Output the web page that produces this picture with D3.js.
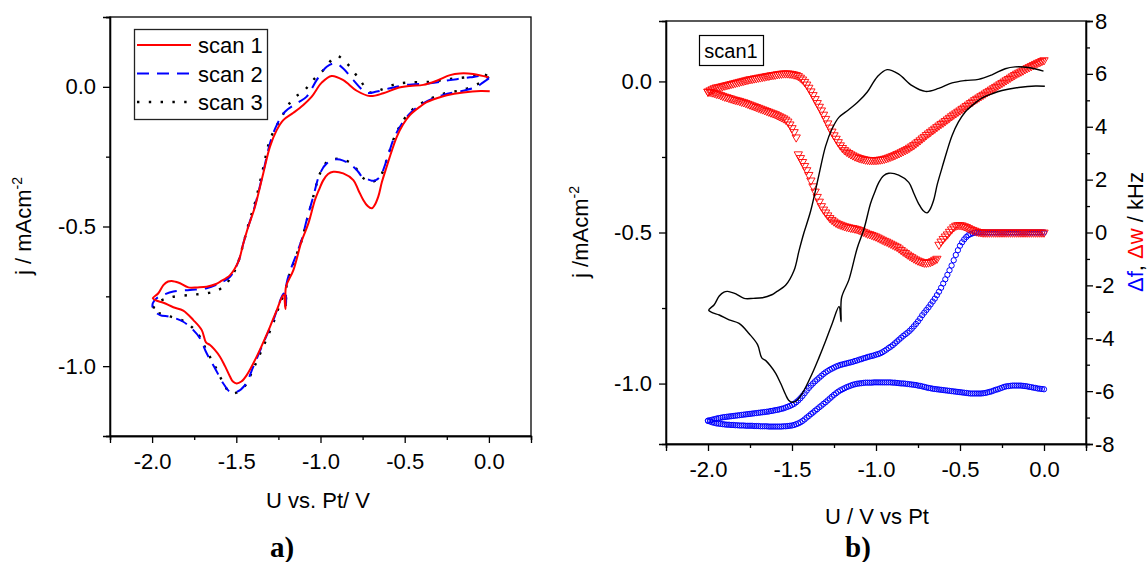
<!DOCTYPE html>
<html>
<head>
<meta charset="utf-8">
<script src="https://cdn.jsdelivr.net/npm/d3@7"></script>
<style>
  html, body { margin: 0; padding: 0; background: #fff; }
  svg { display: block; font-family: "Liberation Sans", Arial, sans-serif; }
</style>
</head>
<body>
<svg id="fig" width="1148" height="562"></svg>
<script>
// ---------- cyclic voltammograms, [U / V, j / mA cm^-2] in sweep order ----------
const scan1 = [
  [0.005,-0.016],[-0.05,-0.015],[-0.152,-0.02],[-0.25,-0.03],[-0.31,-0.041],[-0.37,-0.055],
  [-0.409,-0.071],[-0.469,-0.101],[-0.51,-0.135],[-0.547,-0.179],[-0.58,-0.235],[-0.607,-0.286],
  [-0.635,-0.34],[-0.657,-0.393],[-0.68,-0.425],[-0.696,-0.435],[-0.72,-0.427],[-0.746,-0.405],
  [-0.775,-0.37],[-0.805,-0.334],[-0.865,-0.31],[-0.924,-0.304],[-0.955,-0.312],[-0.983,-0.334],
  [-1.01,-0.37],[-1.033,-0.405],[-1.072,-0.489],[-1.112,-0.552],[-1.161,-0.656],[-1.205,-0.716],
  [-1.208,-0.795],[-1.22,-0.745],[-1.26,-0.80],[-1.30,-0.859],[-1.34,-0.915],[-1.379,-0.966],
  [-1.438,-1.032],[-1.47,-1.055],[-1.498,-1.062],[-1.52,-1.055],[-1.537,-1.038],[-1.567,-1.0],
  [-1.597,-0.966],[-1.63,-0.94],[-1.656,-0.924],[-1.68,-0.915],[-1.705,-0.871],[-1.755,-0.835],
  [-1.815,-0.801],[-1.874,-0.789],[-1.933,-0.773],[-1.975,-0.765],[-1.996,-0.757],
  [-1.963,-0.739],[-1.933,-0.71],[-1.905,-0.697],[-1.884,-0.695],[-1.86,-0.698],[-1.834,-0.703],
  [-1.785,-0.718],[-1.73,-0.718],[-1.676,-0.716],[-1.62,-0.706],[-1.597,-0.698],[-1.537,-0.674],
  [-1.488,-0.626],[-1.458,-0.56],[-1.429,-0.501],[-1.389,-0.429],[-1.34,-0.31],[-1.30,-0.214],
  [-1.26,-0.155],[-1.221,-0.119],[-1.161,-0.093],[-1.102,-0.065],[-1.052,-0.035],[-0.993,0.015],
  [-0.934,0.039],[-0.865,0.024],[-0.785,-0.014],[-0.706,-0.033],[-0.627,-0.023],[-0.547,-0.005],
  [-0.469,0.003],[-0.39,0.007],[-0.31,0.022],[-0.231,0.042],[-0.172,0.048],[-0.093,0.046],
  [-0.003,0.034]
];
const scan2 = [
  [0.0,0.03],[-0.036,0.015],[-0.072,0.0],[-0.152,-0.014],[-0.271,-0.029],[-0.39,-0.059],
  [-0.469,-0.095],[-0.528,-0.143],[-0.568,-0.19],[-0.607,-0.262],[-0.647,-0.322],[-0.675,-0.335],
  [-0.696,-0.336],[-0.72,-0.331],[-0.746,-0.327],[-0.775,-0.305],[-0.805,-0.286],[-0.865,-0.264],
  [-0.914,-0.26],[-0.963,-0.274],[-1.003,-0.31],[-1.043,-0.393],[-1.082,-0.477],[-1.112,-0.548],
  [-1.141,-0.596],[-1.201,-0.703],[-1.205,-0.78],[-1.218,-0.74],[-1.28,-0.835],[-1.34,-0.918],
  [-1.399,-1.002],[-1.448,-1.068],[-1.498,-1.092],[-1.537,-1.092],[-1.577,-1.062],[-1.626,-1.008],
  [-1.676,-0.954],[-1.716,-0.9],[-1.755,-0.871],[-1.815,-0.841],[-1.894,-0.823],[-1.953,-0.817],
  [-1.993,-0.799],[-1.996,-0.775],
  [-1.973,-0.757],[-1.933,-0.745],[-1.874,-0.733],[-1.775,-0.727],[-1.676,-0.721],[-1.597,-0.703],
  [-1.537,-0.68],[-1.488,-0.626],[-1.458,-0.56],[-1.429,-0.5],[-1.389,-0.425],[-1.34,-0.305],
  [-1.30,-0.202],[-1.26,-0.137],[-1.211,-0.089],[-1.141,-0.059],[-1.082,-0.035],[-1.023,0.024],
  [-0.963,0.072],[-0.914,0.084],[-0.865,0.066],[-0.805,0.024],[-0.726,-0.021],[-0.666,-0.017],
  [-0.587,-0.005],[-0.488,0.007],[-0.35,0.013],[-0.231,0.024],[-0.112,0.034],[-0.033,0.039],
  [0.0,0.03]
];
const scan3 = [
  [0.0,0.035],[-0.05,0.015],[-0.152,-0.01],[-0.271,-0.025],[-0.39,-0.055],[-0.469,-0.09],
  [-0.528,-0.14],[-0.568,-0.19],[-0.607,-0.262],[-0.647,-0.322],[-0.696,-0.34],[-0.746,-0.327],
  [-0.805,-0.28],[-0.865,-0.26],[-0.914,-0.258],[-0.963,-0.27],[-1.003,-0.31],[-1.043,-0.393],
  [-1.082,-0.48],[-1.112,-0.55],[-1.141,-0.6],[-1.201,-0.71],[-1.205,-0.79],[-1.218,-0.75],
  [-1.28,-0.845],[-1.34,-0.93],[-1.399,-1.01],[-1.448,-1.07],[-1.5,-1.095],[-1.537,-1.095],
  [-1.577,-1.06],[-1.626,-1.0],[-1.676,-0.945],[-1.716,-0.895],[-1.755,-0.865],[-1.815,-0.838],
  [-1.894,-0.822],[-1.953,-0.811],[-1.996,-0.805],
  [-1.973,-0.775],[-1.894,-0.754],[-1.775,-0.745],[-1.676,-0.739],[-1.616,-0.73],[-1.567,-0.71],
  [-1.527,-0.677],[-1.498,-0.644],[-1.468,-0.584],[-1.429,-0.495],[-1.389,-0.415],[-1.34,-0.29],
  [-1.30,-0.19],[-1.23,-0.107],[-1.161,-0.041],[-1.102,-0.017],[-1.05,0.02],[-0.983,0.06],
  [-0.904,0.11],[-0.844,0.084],[-0.765,0.024],[-0.706,-0.02],[-0.65,-0.012],[-0.568,0.007],
  [-0.488,0.015],[-0.35,0.018],[-0.231,0.028],[-0.112,0.036],[-0.03,0.045],[0.0,0.035]
];

// ---------- EQCM data of scan 1: potentials and the two sweeps (kHz) ----------
const potentialGrid = [
   0.0000,-0.0125,-0.0250,-0.0375,-0.0500,-0.0625,-0.0750,-0.0875,
  -0.1000,-0.1125,-0.1250,-0.1375,-0.1500,-0.1625,-0.1750,-0.1875,
  -0.2000,-0.2125,-0.2250,-0.2375,-0.2500,-0.2625,-0.2750,-0.2875,
  -0.3000,-0.3125,-0.3250,-0.3375,-0.3500,-0.3625,-0.3750,-0.3875,
  -0.4000,-0.4125,-0.4250,-0.4375,-0.4500,-0.4625,-0.4750,-0.4875,
  -0.5000,-0.5125,-0.5250,-0.5375,-0.5500,-0.5625,-0.5750,-0.5875,
  -0.6000,-0.6125,-0.6250,-0.6375,-0.6500,-0.6625,-0.6750,-0.6875,
  -0.7000,-0.7125,-0.7250,-0.7375,-0.7500,-0.7625,-0.7750,-0.7875,
  -0.8000,-0.8125,-0.8250,-0.8375,-0.8500,-0.8625,-0.8750,-0.8875,
  -0.9000,-0.9125,-0.9250,-0.9375,-0.9500,-0.9625,-0.9750,-0.9875,
  -1.0000,-1.0125,-1.0250,-1.0375,-1.0500,-1.0625,-1.0750,-1.0875,
  -1.1000,-1.1125,-1.1250,-1.1375,-1.1500,-1.1625,-1.1750,-1.1875,
  -1.2000,-1.2125,-1.2250,-1.2375,-1.2500,-1.2625,-1.2750,-1.2875,
  -1.3000,-1.3125,-1.3250,-1.3375,-1.3500,-1.3625,-1.3750,-1.3875,
  -1.4000,-1.4125,-1.4250,-1.4375,-1.4500,-1.4625,-1.4750,-1.4875,
  -1.5000,-1.5125,-1.5250,-1.5375,-1.5500,-1.5625,-1.5750,-1.5875,
  -1.6000,-1.6125,-1.6250,-1.6375,-1.6500,-1.6625,-1.6750,-1.6875,
  -1.7000,-1.7125,-1.7250,-1.7375,-1.7500,-1.7625,-1.7750,-1.7875,
  -1.8000,-1.8125,-1.8250,-1.8375,-1.8500,-1.8625,-1.8750,-1.8875,
  -1.9000,-1.9125,-1.9250,-1.9375,-1.9500,-1.9625,-1.9750,-1.9875,
  -2.0000
];
// damping shift, cathodic sweep
const dwForward = [
  0,0,0,0,0,0,0,0,
  0,0,0,0,0,0,0,0,
  0,0,0,0,0,0,0,0,
  0,0,0,0,0,0,0.01,0.02,
  0.04,0.07,0.10,0.13,0.17,0.21,0.24,0.27,
  0.28,0.28,0.26,0.20,0.12,0.03,-0.07,-0.15,
  -0.24,-0.34,-0.46,-0.99,-1.03,-1.08,-1.11,-1.13,
  -1.14,-1.14,-1.12,-1.09,-1.06,-1.02,-0.98,-0.93,
  -0.88,-0.83,-0.77,-0.72,-0.66,-0.60,-0.54,-0.50,
  -0.46,-0.42,-0.38,-0.34,-0.31,-0.27,-0.23,-0.19,
  -0.15,-0.12,-0.09,-0.06,-0.04,0.00,0.03,0.07,
  0.10,0.13,0.15,0.17,0.18,0.20,0.22,0.24,
  0.27,0.30,0.33,0.37,0.42,0.48,0.55,0.65,
  0.76,0.87,1.00,1.17,1.35,1.55,1.75,1.97,
  2.18,2.36,2.52,2.67,2.82,2.96,3.60,3.80,
  3.95,4.09,4.20,4.27,4.32,4.36,4.40,4.44,
  4.48,4.51,4.54,4.57,4.60,4.63,4.66,4.69,
  4.72,4.75,4.78,4.81,4.84,4.87,4.90,4.93,
  4.95,4.98,5.00,5.02,5.04,5.07,5.09,5.12,
  5.14,5.17,5.20,5.23,5.25,5.28,5.30,5.32,
  5.33
];
// damping shift, anodic sweep
const dwReverse = [
  6.52,6.49,6.45,6.42,6.38,6.34,6.30,6.26,
  6.22,6.18,6.13,6.09,6.05,6.01,5.96,5.91,
  5.86,5.81,5.76,5.71,5.66,5.61,5.56,5.51,
  5.46,5.41,5.36,5.31,5.26,5.21,5.16,5.11,
  5.06,5.01,4.95,4.90,4.84,4.79,4.73,4.68,
  4.62,4.57,4.51,4.46,4.40,4.34,4.28,4.22,
  4.16,4.11,4.05,3.99,3.93,3.87,3.81,3.75,
  3.69,3.62,3.56,3.49,3.43,3.37,3.31,3.26,
  3.21,3.16,3.12,3.08,3.04,3.00,2.97,2.93,
  2.90,2.87,2.84,2.81,2.79,2.77,2.76,2.75,
  2.74,2.74,2.74,2.74,2.75,2.76,2.78,2.80,
  2.82,2.85,2.88,2.92,2.96,3.01,3.06,3.12,
  3.20,3.30,3.42,3.55,3.68,3.82,3.97,4.13,
  4.30,4.46,4.62,4.76,4.90,5.05,5.20,5.34,
  5.48,5.60,5.70,5.79,5.86,5.92,5.96,5.98,
  6.00,6.01,6.02,6.02,6.02,6.01,6.00,5.99,
  5.97,5.96,5.95,5.93,5.92,5.90,5.89,5.87,
  5.86,5.84,5.83,5.81,5.80,5.78,5.76,5.74,
  5.72,5.70,5.68,5.66,5.64,5.62,5.60,5.58,
  5.56,5.54,5.52,5.50,5.49,5.46,5.42,5.38,
  5.33
];
// frequency shift, cathodic sweep
const dfForward = [
  0,0,0,0,0,0,0,0,
  0,0,0,0,0,0,0,0,
  0,0,0,0,0,0,0,0,
  0,0,0,0,0,0,0,0,
  0,-0.01,-0.03,-0.06,-0.10,-0.17,-0.26,-0.37,
  -0.50,-0.67,-0.85,-1.05,-1.25,-1.43,-1.60,-1.77,
  -1.93,-2.09,-2.24,-2.37,-2.50,-2.61,-2.72,-2.83,
  -2.93,-3.03,-3.13,-3.25,-3.36,-3.46,-3.55,-3.64,
  -3.72,-3.79,-3.85,-3.91,-3.98,-4.05,-4.12,-4.19,
  -4.26,-4.32,-4.37,-4.43,-4.48,-4.53,-4.57,-4.60,
  -4.62,-4.65,-4.67,-4.69,-4.71,-4.74,-4.76,-4.79,
  -4.81,-4.84,-4.86,-4.89,-4.91,-4.93,-4.95,-4.97,
  -4.99,-5.01,-5.04,-5.07,-5.11,-5.15,-5.19,-5.24,
  -5.29,-5.35,-5.42,-5.49,-5.56,-5.63,-5.71,-5.79,
  -5.88,-5.98,-6.08,-6.18,-6.27,-6.35,-6.42,-6.48,
  -6.52,-6.56,-6.59,-6.62,-6.65,-6.67,-6.69,-6.71,
  -6.72,-6.74,-6.75,-6.77,-6.78,-6.79,-6.80,-6.81,
  -6.82,-6.83,-6.84,-6.85,-6.86,-6.87,-6.88,-6.89,
  -6.90,-6.91,-6.92,-6.93,-6.94,-6.95,-6.96,-6.97,
  -6.98,-6.99,-7.01,-7.02,-7.04,-7.06,-7.08,-7.10,
  -7.12
];
// frequency shift, anodic sweep
const dfReverse = [
  -5.93,-5.92,-5.91,-5.90,-5.88,-5.87,-5.85,-5.84,
  -5.82,-5.81,-5.80,-5.79,-5.79,-5.79,-5.79,-5.79,
  -5.80,-5.81,-5.82,-5.84,-5.87,-5.90,-5.93,-5.95,
  -5.98,-6.01,-6.03,-6.05,-6.07,-6.08,-6.09,-6.09,
  -6.09,-6.09,-6.09,-6.09,-6.08,-6.07,-6.06,-6.05,
  -6.04,-6.03,-6.02,-6.01,-6.00,-5.99,-5.98,-5.97,
  -5.96,-5.95,-5.94,-5.93,-5.92,-5.91,-5.89,-5.88,
  -5.86,-5.84,-5.82,-5.80,-5.79,-5.77,-5.76,-5.75,
  -5.74,-5.73,-5.72,-5.71,-5.71,-5.70,-5.69,-5.68,
  -5.68,-5.67,-5.67,-5.67,-5.67,-5.67,-5.67,-5.67,
  -5.67,-5.67,-5.68,-5.68,-5.68,-5.68,-5.69,-5.70,
  -5.71,-5.72,-5.74,-5.76,-5.79,-5.82,-5.85,-5.89,
  -5.93,-5.97,-6.02,-6.08,-6.14,-6.21,-6.28,-6.35,
  -6.42,-6.48,-6.55,-6.61,-6.68,-6.74,-6.81,-6.87,
  -6.94,-7.00,-7.07,-7.13,-7.18,-7.22,-7.25,-7.28,
  -7.30,-7.31,-7.32,-7.33,-7.33,-7.34,-7.34,-7.34,
  -7.34,-7.34,-7.34,-7.34,-7.33,-7.33,-7.33,-7.33,
  -7.32,-7.32,-7.32,-7.31,-7.31,-7.31,-7.31,-7.30,
  -7.30,-7.30,-7.29,-7.29,-7.28,-7.28,-7.27,-7.27,
  -7.26,-7.25,-7.24,-7.23,-7.22,-7.20,-7.18,-7.15,
  -7.12
];

// ---------- tick values ----------
const uTicks = [-2.0, -1.5, -1.0, -0.5, 0.0];
const uMinor = [-2.25, -1.75, -1.25, -0.75, -0.25, 0.25];
const jTicksA = [-1.0, -0.5, 0.0];
const jMinorA = [-1.25, -0.75, -0.25, 0.25];
const jTicksB = [-1.0, -0.5, 0.0];
const jMinorB = [-0.75, -0.25];
const kHzTicks = [-8, -6, -4, -2, 0, 2, 4, 6, 8];
const kHzMinor = [-7, -5, -3, -1, 1, 3, 5, 7];

const legendItems = [
  { label: "scan 1", color: "#ff0000", dash: null, width: 2 },
  { label: "scan 2", color: "#0000ff", dash: "12 8", width: 2 },
  { label: "scan 3", color: "#000000", dash: "2.4 9.4", width: 2.4 }
];

const svg = d3.select("#fig");
svg.append("rect").attr("width", 1148).attr("height", 562).attr("fill", "#fff");

const FS = 22;
// plain hyphen-minus for negative tick labels
const fmt1 = d => d3.format(".1f")(d).replace("\u2212", "-");
const fmt0 = d => d3.format("d")(d).replace("\u2212", "-");

function styleAxis(g) {
  g.selectAll("path").attr("stroke", "#000").attr("stroke-width", 1.3);
  g.selectAll("line").attr("stroke", "#000").attr("stroke-width", 1.3);
  g.selectAll("text").attr("font-size", FS).attr("fill", "#000")
    .attr("font-family", '"Liberation Sans", Arial, sans-serif');
}

function frame(x, y) {
  const [x0, x1] = x.range(), [y1, y0] = y.range();
  svg.append("rect").attr("x", x0).attr("y", y0).attr("width", x1 - x0).attr("height", y1 - y0)
    .attr("fill", "none").attr("stroke", "#000").attr("stroke-width", 1.3);
}

// ================= panel a) =================
const xA = d3.scaleLinear([-2.25, 0.25], [110, 531]);
const yA = d3.scaleLinear([-1.25, 0.25], [436, 17]);

svg.append("clipPath").attr("id", "clipA").append("rect")
  .attr("x", 110).attr("y", 17).attr("width", 421).attr("height", 419);

const lineA = d3.line().x(d => xA(d[0])).y(d => yA(d[1])).curve(d3.curveCatmullRom.alpha(0.5));
const gA = svg.append("g").attr("clip-path", "url(#clipA)");
[[scan3, legendItems[2]], [scan2, legendItems[1]], [scan1, legendItems[0]]].forEach(([data, st]) => {
  gA.append("path").datum(data).attr("d", lineA).attr("fill", "none")
    .attr("stroke", st.color).attr("stroke-width", st.width)
    .attr("stroke-dasharray", st.dash);
});

frame(xA, yA);
svg.append("g").attr("transform", "translate(0,436)")
  .call(d3.axisBottom(xA).tickValues(uTicks).tickFormat(fmt1).tickSize(7).tickPadding(10)).call(styleAxis);
svg.append("g").attr("transform", "translate(0,436)")
  .call(d3.axisBottom(xA).tickValues(uMinor).tickFormat("").tickSize(4)).call(styleAxis);
svg.append("g").attr("transform", "translate(110,0)")
  .call(d3.axisLeft(yA).tickValues(jTicksA).tickFormat(fmt1).tickSize(7).tickPadding(7)).call(styleAxis);
svg.append("g").attr("transform", "translate(110,0)")
  .call(d3.axisLeft(yA).tickValues(jMinorA).tickFormat("").tickSize(4)).call(styleAxis);

// legend
const lg = svg.append("g");
lg.append("rect").attr("x", 134.5).attr("y", 29.5).attr("width", 133).attr("height", 90)
  .attr("fill", "#fff").attr("stroke", "#222").attr("stroke-width", 1.3);
legendItems.forEach((d, i) => {
  const cy = 45 + i * 28.5;
  lg.append("line").attr("x1", 137).attr("x2", 191).attr("y1", cy).attr("y2", cy)
    .attr("stroke", d.color).attr("stroke-width", d.width).attr("stroke-dasharray", d.dash);
  lg.append("text").attr("x", 198).attr("y", cy + 8).attr("font-size", FS).text(d.label);
});

// axis titles
svg.append("text").attr("text-anchor", "middle").attr("font-size", FS)
  .attr("transform", "translate(31,226) rotate(-90)")
  .call(t => { t.append("tspan").text("j / mAcm");
               t.append("tspan").attr("font-size", 14).attr("dy", -9).text("-2"); });
svg.append("text").attr("x", 318).attr("y", 508).attr("text-anchor", "middle")
  .attr("font-size", FS).text("U vs. Pt/ V");
svg.append("text").attr("x", 282).attr("y", 557).attr("text-anchor", "middle")
  .attr("font-family", '"Liberation Serif", "Times New Roman", serif')
  .attr("font-weight", "bold").attr("font-size", 29).text("a)");

// ================= panel b) =================
const xB = d3.scaleLinear([-2.25, 0.25], [666, 1086]);
const yB = d3.scaleLinear([-1.2, 0.2], [444, 21]);
const yK = d3.scaleLinear([-8, 8], [444, 21]);

svg.append("clipPath").attr("id", "clipB").append("rect")
  .attr("x", 666).attr("y", 21).attr("width", 420).attr("height", 423);
const gB = svg.append("g").attr("clip-path", "url(#clipB)");

// Δf: hollow blue circles
const circ = d3.symbol().type(d3.symbolCircle).size(22);
[dfForward, dfReverse].forEach(series => {
  gB.append("g").selectAll("path").data(potentialGrid.map((u, i) => [u, series[i]]))
    .join("path").attr("d", circ)
    .attr("transform", d => `translate(${xB(d[0])},${yK(d[1])})`)
    .attr("fill", "none").attr("stroke", "#0000ff").attr("stroke-width", 1);
});

// Δw: hollow red triangles
const tri = d3.symbol().type(d3.symbolTriangle).size(30);
[dwForward, dwReverse].forEach(series => {
  gB.append("g").selectAll("path").data(potentialGrid.map((u, i) => [u, series[i]]))
    .join("path").attr("d", tri)
    .attr("transform", d => `translate(${xB(d[0])},${yK(d[1])}) rotate(180)`)
    .attr("fill", "none").attr("stroke", "#ff0000").attr("stroke-width", 0.9);
});

// current of scan 1
const lineB = d3.line().x(d => xB(d[0])).y(d => yB(d[1])).curve(d3.curveCatmullRom.alpha(0.5));
gB.append("path").datum(scan1).attr("d", lineB).attr("fill", "none")
  .attr("stroke", "#000").attr("stroke-width", 1.4);

frame(xB, yB);
svg.append("g").attr("transform", "translate(0,444)")
  .call(d3.axisBottom(xB).tickValues(uTicks).tickFormat(fmt1).tickSize(7).tickPadding(10)).call(styleAxis);
svg.append("g").attr("transform", "translate(0,444)")
  .call(d3.axisBottom(xB).tickValues(uMinor).tickFormat("").tickSize(4)).call(styleAxis);
svg.append("g").attr("transform", "translate(666,0)")
  .call(d3.axisLeft(yB).tickValues(jTicksB).tickFormat(fmt1).tickSize(7).tickPadding(7)).call(styleAxis);
svg.append("g").attr("transform", "translate(666,0)")
  .call(d3.axisLeft(yB).tickValues(jMinorB).tickFormat("").tickSize(4)).call(styleAxis);
svg.append("g").attr("transform", "translate(1086,0)")
  .call(d3.axisRight(yK).tickValues(kHzTicks).tickFormat(fmt0).tickSize(7).tickPadding(2)).call(styleAxis);
svg.append("g").attr("transform", "translate(1086,0)")
  .call(d3.axisRight(yK).tickValues(kHzMinor).tickFormat("").tickSize(4)).call(styleAxis);

// "scan1" tag
svg.append("rect").attr("x", 699.5).attr("y", 35.5).attr("width", 64).attr("height", 30)
  .attr("fill", "#fff").attr("stroke", "#000").attr("stroke-width", 1.2);
svg.append("text").attr("x", 731).attr("y", 58).attr("text-anchor", "middle")
  .attr("font-size", 20).text("scan1");

// titles
svg.append("text").attr("text-anchor", "middle").attr("font-size", FS)
  .attr("transform", "translate(588,232) rotate(-90)")
  .call(t => { t.append("tspan").text("j /mAcm");
               t.append("tspan").attr("font-size", 14).attr("dy", -9).text("-2"); });
svg.append("text").attr("text-anchor", "middle").attr("font-size", FS)
  .attr("transform", "translate(1143,232) rotate(-90)")
  .call(t => {
    t.append("tspan").attr("fill", "#0000ff").text("\u0394f");
    t.append("tspan").attr("fill", "#000").text(", ");
    t.append("tspan").attr("fill", "#ff0000").text("\u0394w");
    t.append("tspan").attr("fill", "#000").text(" / kHz");
  });
svg.append("text").attr("x", 877).attr("y", 524).attr("text-anchor", "middle")
  .attr("font-size", FS).text("U / V vs Pt");
svg.append("text").attr("x", 858).attr("y", 557).attr("text-anchor", "middle")
  .attr("font-family", '"Liberation Serif", "Times New Roman", serif')
  .attr("font-weight", "bold").attr("font-size", 29).text("b)");
</script>
</body>
</html>
